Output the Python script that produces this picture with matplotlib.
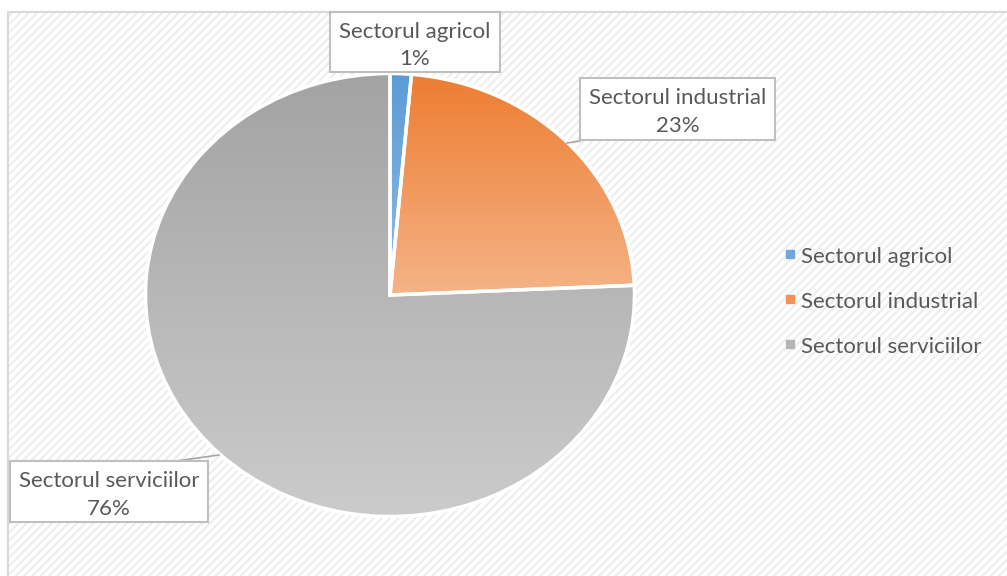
import numpy as np
import matplotlib
matplotlib.use("Agg")
import matplotlib.pyplot as plt
from matplotlib.patches import Rectangle
from matplotlib.colors import to_rgb

# ---- data ----
categories = ["Sectorul agricol", "Sectorul industrial", "Sectorul serviciilor"]
values = [1.4, 22.9, 75.7]
pct_labels = ["1%", "23%", "76%"]
top_colors = ["#5B9BD5", "#ED7D31", "#A3A3A3"]
bottom_colors = ["#8FBCE6", "#F5B387", "#CBCBCB"]
legend_colors = ["#6FA8DC", "#F0935A", "#B5B5B5"]

plt.rcParams['font.family'] = ['Lato', 'DejaVu Sans']
TXT = "#595959"
FS = 16

W, H = 1007, 576
fig = plt.figure(figsize=(W / 100, H / 100), dpi=100)
fig.patch.set_facecolor("white")

# chart area with light diagonal pattern
plt.rcParams['hatch.linewidth'] = 1.5
bg = Rectangle((8 / W, 0), 1.0, (H - 12) / H, transform=fig.transFigure,
               facecolor="white", edgecolor="#EEEEEE", hatch="////",
               linewidth=0, zorder=-2)
fig.patches.append(bg)
border = Rectangle((8 / W, -0.01), 1.0, (H - 12) / H + 0.01, transform=fig.transFigure,
                   facecolor="none", edgecolor="#D9D9D9", linewidth=1.5, zorder=-1)
fig.patches.append(border)

ax = fig.add_axes([0, 0, 1, 1])
ax.set_zorder(2)
ax.set_axis_off()
ax.patch.set_alpha(0)

# pixel geometry of the ellipse
cx, cy = 390, 295
rx, ry = 244.5, 221.5

wedges, _ = ax.pie(values, startangle=90, counterclock=False, radius=1.0,
                   colors=top_colors,
                   wedgeprops=dict(edgecolor="white", linewidth=2.5))

for w, c0, c1 in zip(wedges, top_colors, bottom_colors):
    ext = w.get_path().get_extents()
    a = np.array(to_rgb(c0)); b = np.array(to_rgb(c1))
    t = np.linspace(0, 1, 256)[:, None]
    grad = (a[None, :] * (1 - t) + b[None, :] * t)[:, None, :]
    im = ax.imshow(grad, extent=[ext.x0, ext.x1, ext.y0, ext.y1], origin='upper',
                   aspect='auto', zorder=w.get_zorder() - 0.01, interpolation='bilinear')
    im.set_clip_path(w)
    w.set_facecolor("none")
ax.set_aspect('auto')
ax.set_xlim(-cx / rx, (W - cx) / rx)
ax.set_ylim(-(H - cy) / ry, cy / ry)


def px(x, y):
    return ((x - cx) / rx, (cy - y) / ry)


def label_box(x0, y0, x1, y1, line1, line2):
    X0, Y1 = px(x0, y0)
    X1, Y0 = px(x1, y1)
    ax.add_patch(Rectangle((X0, Y0), X1 - X0, Y1 - Y0, facecolor="white",
                           edgecolor="#BFBFBF", linewidth=1.5, zorder=5))
    xm = (x0 + x1) / 2
    ax.text(*px(xm, y0 + (y1 - y0) * 0.33), line1, ha="center", va="center",
            fontsize=FS, color=TXT, zorder=6)
    ax.text(*px(xm, y0 + (y1 - y0) * 0.78), line2, ha="center", va="center",
            fontsize=FS, color=TXT, zorder=6)


# leader lines
ax.plot(*zip(px(580, 141), px(567, 143)), color="#A6A6A6", lw=1.2, zorder=4)
ax.plot(*zip(px(176, 461), px(219, 455)), color="#A6A6A6", lw=1.2, zorder=4)

label_box(330, 12, 500, 72, categories[0], pct_labels[0])
label_box(580, 78, 775, 140, categories[1], pct_labels[1])
label_box(10, 461, 208, 522, categories[2], pct_labels[2])

# legend
for i, (name, col) in enumerate(zip(categories, legend_colors)):
    y = 257 + 45 * i
    xm, ym = px(790, y - 3)
    ax.plot([xm], [ym], marker="s", markersize=6, color=col, ls="none", zorder=6)
    ax.text(*px(801, y), name, ha="left", va="center", fontsize=FS, color=TXT, zorder=6)

fig.savefig("out.png", dpi=100)
